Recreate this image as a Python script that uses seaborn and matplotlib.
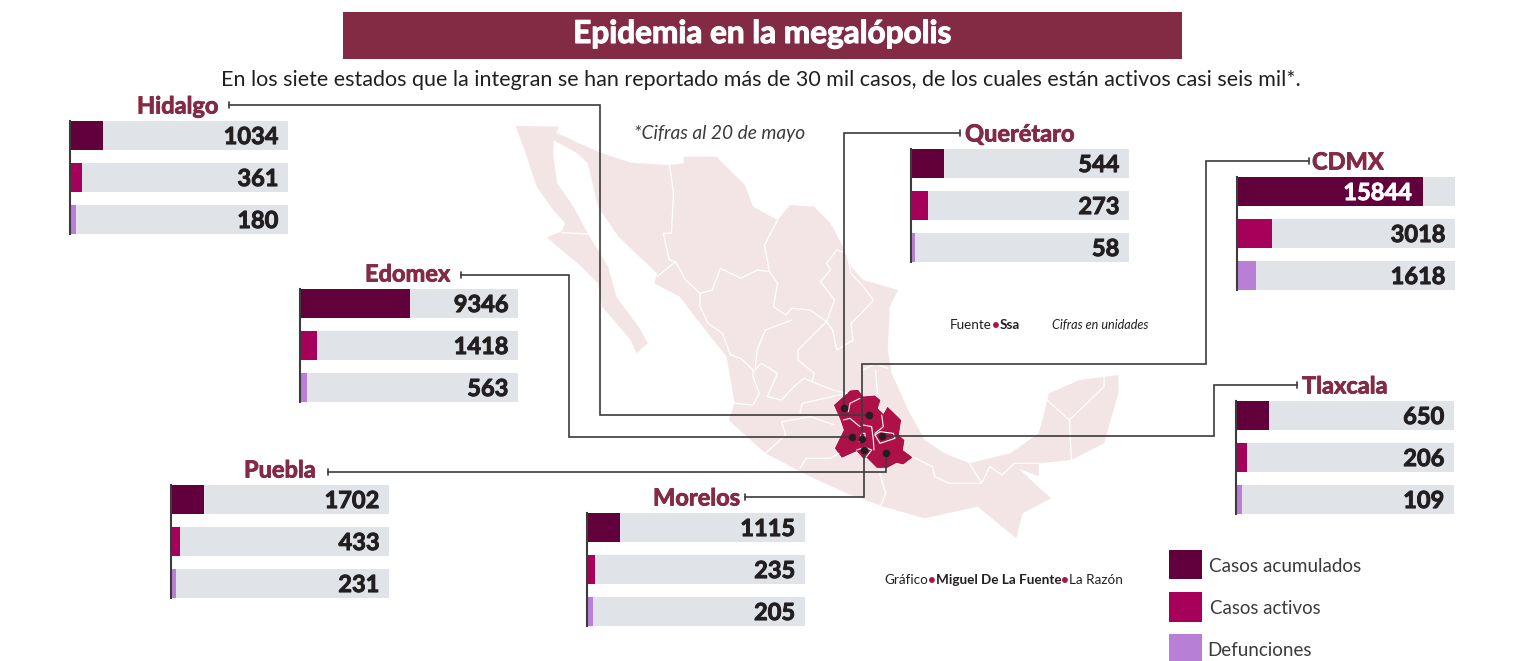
import numpy as np
import pandas as pd
import matplotlib
matplotlib.use('Agg')
import matplotlib.pyplot as plt
import matplotlib.patheffects as pe
from matplotlib.patches import Polygon, Rectangle
import seaborn as sns

# Data
series = ['Casos acumulados', 'Casos activos', 'Defunciones']
hidalgo = [1034, 361, 180]
edomex = [9346, 1418, 563]
puebla = [1702, 433, 231]
morelos = [1115, 235, 205]
queretaro = [544, 273, 58]
cdmx = [15844, 3018, 1618]
tlaxcala = [650, 206, 109]

# Length of each bar as drawn: the original does not keep one scale across states
hidalgo_drawn = [2810, 1020, 510]
edomex_drawn = [9346, 1450, 600]
puebla_drawn = [2810, 770, 430]
morelos_drawn = [2810, 680, 510]
queretaro_drawn = [2810, 1450, 340]
cdmx_drawn = [15844, 3018, 1618]
tlaxcala_drawn = [2810, 940, 510]
track_max = 18570

COLORS = ['#62003C', '#A6005A', '#B97FD6']
TRACK = '#E0E4E8'
WINE = '#832A45'
INK = '#231F20'
LINE = '#3C3A3B'
MAP = '#F3E5E6'
STATE = '#AD1148'

W, H = 1519, 661

# Base map, traced in crop coordinates
baja = [(38,48),(145,50),(132,85),(130,130),(140,220),(180,290),(215,370),(265,470),(285,560),(345,660),(362,700),
        (335,730),(320,690),(250,590),(240,520),(200,470),(150,420),(115,382),(150,365),(160,340),(130,300),(90,230),(60,120)]
mainland = [(132,65),(240,125),(320,158),(415,165),(450,160),(450,140),(530,140),(600,225),(620,290),(680,330),(710,285),
            (770,290),(810,340),(840,410),(860,470),(890,510),(975,540),(955,590),(950,720),(960,790),(1000,900),(1040,990),
            (1090,1030),(1150,1060),(1250,1030),(1320,970),(1335,900),(1345,850),(1420,810),(1515,795),(1515,850),(1480,1000),
            (1400,1050),(1320,1060),(1320,1100),(1270,1075),(1350,1165),(1280,1210),(1265,1285),(1170,1190),(1040,1225),
            (940,1190),(850,1150),(760,1100),(650,1030),(560,930),(575,880),(555,740),(490,640),(440,560),(378,520),(385,490),
            (350,450),(290,380),(240,290),(215,160),(190,130),(130,90)]
borders = [
    [(150,368),(215,372)],
    [(415,165),(425,250),(420,370),(400,370),(415,450),(430,455),(385,500)],
    [(680,330),(648,405),(660,485),(680,520),(670,590),(700,615),(715,595),(760,600),(800,635),(730,720),(730,750),(770,790),(765,815)],
    [(430,455),(455,510),(490,550),(520,540),(540,475),(590,505),(630,480),(660,485)],
    [(490,550),(490,590),(510,640),(545,670),(565,735),(590,745),(620,780),(620,800),(635,850),(620,885),(575,880)],
    [(715,630),(650,660),(630,720),(625,780),(640,760),(680,790),(655,860),(690,870),(720,830),(745,805),(765,815)],
    [(800,635),(820,570),(785,515),(810,480),(800,460),(825,420),(850,430),(860,490),(890,530),(915,570),(885,610),(860,640),(865,690),(825,720),(815,660),(800,635)],
    [(765,815),(815,840),(850,850),(740,880),(735,910)],
    [(690,935),(760,920),(820,945)],
    [(690,935),(700,975),(650,1030)],
    [(735,1075),(750,1045),(810,1045),(830,1030)],
    [(1010,1040),(1060,1070),(1065,1100),(1100,1120),(1180,1120),(1150,1060)],
    [(1180,1120),(1200,1070),(1230,1095),(1260,1060),(1320,1060)],
    [(930,1090),(945,1150),(930,1195)],
    [(1340,870),(1395,930),(1480,830),(1480,800)],
    [(1395,930),(1400,1050)],
    [(890,780),(920,760),(950,775)],
    [(920,780),(925,850)],
]
region = [(100,105),(150,60),(175,58),(190,78),(225,75),(243,90),(235,115),(250,130),(262,108),(280,125),(305,150),(298,195),
          (315,210),(310,240),(340,262),(310,285),(290,280),(262,295),(230,295),(200,265),(190,268),(170,245),(125,265),(103,235),
          (130,180),(120,150)]
region_borders = [
    [(145,125),(150,100),(180,85)],
    [(130,150),(150,145),(180,170)],
    [(185,190),(178,215),(195,215),(195,190),(185,190)],
    [(170,240),(195,232),(215,240),(198,262)],
    [(190,165),(215,170),(220,210),(222,240)],
    [(225,195),(240,185),(280,190),(285,205),(240,220),(225,195)],
    [(245,135),(250,170),(225,190)],
]

# Where each state sits: name, values, drawn, panel left/top, name left/middle, leader path
states = [
    ('Hidalgo', hidalgo, hidalgo_drawn, (70, 121), (137, 106), [(229,105),(600,105),(600,415),(869,415)]),
    ('Edomex', edomex, edomex_drawn, (300, 289), (365, 274), [(461,275),(569,275),(569,437),(852,437)]),
    ('Puebla', puebla, puebla_drawn, (171, 485), (244, 470), [(328,472),(886,472),(886,453)]),
    ('Morelos', morelos, morelos_drawn, (587, 513), (653, 498), [(745,497),(864,497),(864,450)]),
    ('Querétaro', queretaro, queretaro_drawn, (911, 149), (965, 134), [(960,133),(844,133),(844,408)]),
    ('CDMX', cdmx, cdmx_drawn, (1237, 177), (1312, 162), [(1309,161),(1206,161),(1206,364),(862,364),(862,439)]),
    ('Tlaxcala', tlaxcala, tlaxcala_drawn, (1236, 401), (1302, 386), [(1297,385),(1214,385),(1214,436),(882,436)]),
]

sns.set_theme(style='white')
plt.rcParams['font.family'] = ['Lato', 'DejaVu Sans']

fig = plt.figure(figsize=(W / 100, H / 100), dpi=100, facecolor='white')
bg = fig.add_axes([0, 0, 1, 1], zorder=0)
bg.set_xlim(0, W)
bg.set_ylim(H, 0)
bg.axis('off')


def crop1(pts):
    return [(500 + x / 2.45, 110 + y / 3) for x, y in pts]


def crop2(pts):
    return [(800 + x / 3, 370 + y / 3) for x, y in pts]


def heavy(t, col, lw=0.7):
    # Lato has no black cut here, thicken the bold with a thin stroke
    t.set_path_effects([pe.withStroke(linewidth=lw, foreground=col)])


def row_text(x, y, pieces, size):
    # pieces of one line set one after the other
    for txt, col, weight, style in pieces:
        t = bg.text(x, y, txt, color=col, fontweight=weight, fontstyle=style, fontsize=size, va='center', ha='left')
        x += t.get_window_extent(fig.canvas.get_renderer()).width


# map
bg.add_patch(Polygon(crop1(baja), fc=MAP, ec='none'))
bg.add_patch(Polygon(crop1(mainland), fc=MAP, ec='none'))
for b in borders:
    p = np.array(crop1(b))
    bg.plot(p[:, 0], p[:, 1], color='white', lw=0.9)
bg.add_patch(Polygon(crop2(region), fc=STATE, ec='white', lw=0.6))
for b in region_borders:
    p = np.array(crop2(b))
    bg.plot(p[:, 0], p[:, 1], color='white', lw=0.8)

# title block
bg.add_patch(Rectangle((343, 12), 839, 47, fc=WINE, ec='none'))
t = bg.text(762, 33.5, 'Epidemia en la megalópolis', color='white', fontsize=22.7, fontweight='bold', ha='center', va='center')
heavy(t, 'white', 0.8)
bg.text(761, 80, 'En los siete estados que la integran se han reportado más de 30 mil casos, de los cuales están activos casi seis mil*.',
        color=INK, fontsize=15.45, ha='center', va='center')
bg.text(720, 133, '*Cifras al 20 de mayo', color='#3C3A3B', fontsize=13.8, fontstyle='italic', ha='center', va='center')

row_text(950, 325, [('Fuente', INK, 'normal', 'normal'), ('•', STATE, 'bold', 'normal'), ('Ssa', INK, 'bold', 'normal')], 9.7)
bg.text(1052, 325, 'Cifras en unidades', color=INK, fontsize=9.1, fontstyle='italic', va='center')
row_text(884, 580, [('Gráfico', INK, 'normal', 'normal'), ('•', STATE, 'bold', 'normal'), ('Miguel De La Fuente', INK, 'bold', 'normal'),
                    ('•', STATE, 'bold', 'normal'), ('La Razón', INK, 'normal', 'normal')], 9.7)

# leaders
for name, vals, drawn, panel, label, path in states:
    p = np.array(path)
    bg.plot(p[:, 0], p[:, 1], color=LINE, lw=1.2, solid_joinstyle='miter')
    start = path[0]
    bg.plot([start[0], start[0]], [start[1] - 3, start[1] + 3], color=LINE, lw=1.2)
    bg.plot(p[-1, 0], p[-1, 1], 'o', color=INK, ms=4.5)
    t = bg.text(label[0], label[1], name, color=WINE, fontsize=17, fontweight='bold', va='center', ha='left')
    heavy(t, WINE, 0.6)

# one small bar panel per state
for name, vals, drawn, panel, label, path in states:
    left, top = panel
    ax = fig.add_axes([left / W, 1 - (top + 113) / H, 218 / W, 113 / H], zorder=2)
    ax.patch.set_alpha(0)
    df = pd.DataFrame({'serie': series, 'valor': vals, 'largo': drawn, 'fondo': [track_max] * 3})
    sns.barplot(data=df, y='serie', x='fondo', color=TRACK, width=29 / 42, saturation=1, linewidth=0, ax=ax)
    sns.barplot(data=df, y='serie', x='largo', hue='serie', palette=COLORS, width=29 / 42, saturation=1,
                linewidth=0, legend=False, ax=ax)
    ax.set_xlim(0, track_max)
    ax.set_ylim(2 + 29 / 84, -29 / 84)
    ax.set_xticks([])
    ax.set_yticks([])
    ax.set_xlabel('')
    ax.set_ylabel('')
    for side in ['top', 'right', 'bottom']:
        ax.spines[side].set_visible(False)
    ax.spines['left'].set_color(LINE)
    ax.spines['left'].set_linewidth(1.5)
    for i, v in enumerate(vals):
        # the one long bar carries its number inside, in white
        inside = v > track_max * 0.8
        col = 'white' if inside else INK
        xpos = drawn[i] * 0.94 if inside else track_max * 0.956
        t = ax.text(xpos, i + 0.025, str(v), color=col, fontsize=17, fontweight='bold', ha='right', va='center')
        heavy(t, col, 0.7)

# legend
for name, col, y, h, tx, fs in zip(series, COLORS, [550, 592, 634], [29, 30, 27], [1209, 1210, 1207], [13.6, 13.4, 13.5]):
    bg.add_patch(Rectangle((1169, y), 33, h, fc=col, ec='none'))
    bg.text(tx, y + 16.5, name, color='#3C3A3B', fontsize=fs, va='center', ha='left')

fig.savefig('out.png', dpi=100)
